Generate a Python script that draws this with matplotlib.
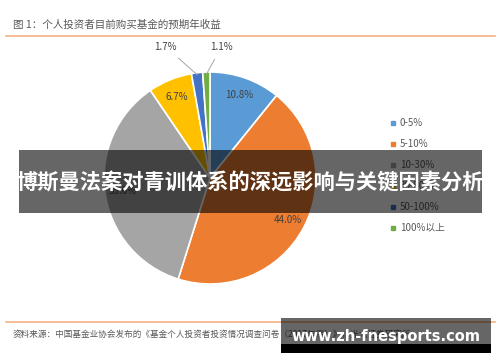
import numpy as np
import matplotlib
matplotlib.use('Agg')
import matplotlib.pyplot as plt
from matplotlib.patches import Rectangle
from matplotlib.lines import Line2D

plt.rcParams['font.family'] = ['Noto Sans CJK SC', 'DejaVu Sans']

# data
categories = ['0-5%', '5-10%', '10-30%', '30-50%', '50-100%', '100%以上']
shares = [10.8, 44.0, 35.6, 6.7, 1.7, 1.1]
colors = ['#5B9BD5', '#ED7D31', '#A5A5A5', '#FFC000', '#4472C4', '#70AD47']
title = '图 1：个人投资者目前购买基金的预期年收益'
source = '资料来源：中国基金业协会发布的《基金个人投资者投资情况调查问卷（2017年度）》，光大证券研究所'
banner = '博斯曼法案对青训体系的深远影响与关键因素分析'
watermark = 'www.zh-fnesports.com'

W, H = 500, 362
fig = plt.figure(figsize=(W / 100, H / 100), dpi=100)


def fx(x):
    return x / W


def fy(y):
    return 1 - y / H


# header / footer
fig.text(fx(13), fy(25), title, fontsize=7.6, color='#595959', va='center', ha='left')
fig.add_artist(Line2D([fx(6), fx(495)], [fy(36), fy(36)], color='#F4B183', lw=1.2))
fig.add_artist(Line2D([fx(6), fx(495)], [fy(322), fy(322)], color='#F4B183', lw=1.2))
fig.text(fx(13), fy(334), source, fontsize=6.2, color='#595959', va='center', ha='left')

# pie
cx, cy, r = 210, 178, 106
ax = fig.add_axes([fx(cx - r), fy(cy + r), 2 * r / W, 2 * r / H])
wedges, _ = ax.pie(shares, colors=colors, startangle=90, counterclock=False,
                   wedgeprops=dict(edgecolor='white', linewidth=1.2))
ax.set_xlim(-1, 1)
ax.set_ylim(-1, 1)
ax.set_aspect('equal')
ax.axis('off')

for w, v in zip(wedges, shares):
    mid = np.deg2rad((w.theta1 + w.theta2) / 2)
    lbl = f'{v:.1f}%'
    if v >= 5:
        d = 0.83
        ax.text(d * np.cos(mid), d * np.sin(mid), lbl, ha='center', va='center',
                fontsize=7, color='#404040')

# small slices labelled outside with leader lines
small = [(4, -0.42), (5, 0.11)]
for i, tx in small:
    w = wedges[i]
    mid = np.deg2rad((w.theta1 + w.theta2) / 2)
    ax.annotate(f'{shares[i]:.1f}%', xy=(0.98 * np.cos(mid), 0.98 * np.sin(mid)),
                xytext=(tx, 1.24), ha='center', va='center', fontsize=7,
                color='#404040', annotation_clip=False,
                arrowprops=dict(arrowstyle='-', color='#A6A6A6', lw=0.7,
                                shrinkA=4, shrinkB=0))

# legend
ly0, dy = 123, 20.9
for k, (c, name) in enumerate(zip(colors, categories)):
    y = ly0 + k * dy
    fig.add_artist(Rectangle((fx(391), fy(y + 2)), 4 / W, 4 / H, color=c,
                             transform=fig.transFigure))
    fig.text(fx(400), fy(y), name, fontsize=7, color='#595959', va='center', ha='left')

# banner overlay
fig.add_artist(Rectangle((fx(19), fy(213)), (482 - 19) / W, (213 - 150) / H,
                         facecolor='black', alpha=0.6, edgecolor='none',
                         transform=fig.transFigure, zorder=10))
fig.text(fx(250), fy(183), banner, fontsize=15.3, fontweight='bold', color='white',
         ha='center', va='center', zorder=11)

# watermark
fig.add_artist(Rectangle((fx(281), fy(344)), (491 - 281) / W, (344 - 318) / H,
                         facecolor='black', alpha=0.6, edgecolor='none',
                         transform=fig.transFigure, zorder=10))
fig.add_artist(Rectangle((fx(281), fy(353)), (491 - 281) / W, (353 - 344) / H,
                         facecolor='black', edgecolor='none',
                         transform=fig.transFigure, zorder=10))
fig.text(fx(386), fy(337), watermark, fontsize=10.5, fontweight='bold', color='white',
         family='DejaVu Sans', ha='center', va='center', zorder=11)

fig.savefig('out.png', dpi=100)
